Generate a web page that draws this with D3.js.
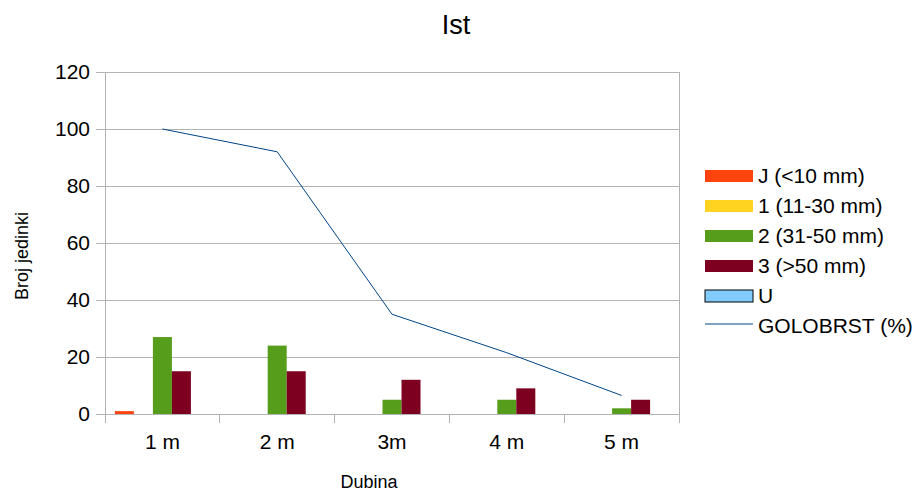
<!DOCTYPE html>
<html><head><meta charset="utf-8">
<script src="https://cdn.jsdelivr.net/npm/d3@7"></script>
<style>body{margin:0;background:#fff}svg{display:block}text{font-family:"Liberation Sans",Arial,sans-serif;fill:#000}</style>
</head><body><svg id="c" width="917" height="491"></svg>
<script>
const categories = ["1 m", "2 m", "3m", "4 m", "5 m"];
const seriesNames = ["J (<10 mm)", "1 (11-30 mm)", "2 (31-50 mm)", "3 (>50 mm)", "U"];
const seriesJ = [1, 0, 0, 0, 0];
const series1 = [0, 0, 0, 0, 0];
const series2 = [27, 24, 5, 5, 2];
const series3 = [15, 15, 12, 9, 5];
const seriesU = [0, 0, 0, 0, 0];
const golobrst = [100, 92, 35, 21.5, 6.5];
const lineName = "GOLOBRST (%)";
const yTicks = [0, 20, 40, 60, 80, 100, 120];
const colors = ["#ff420e", "#ffd320", "#579d1c", "#7e0021", "#83caff"];
const lineColor = "#004586";

const barSeries = [seriesJ, series1, series2, series3, seriesU];
const svg = d3.select("#c");
const m = {l: 105, r: 679, t: 72, b: 414};
const x = d3.scaleBand().domain(categories).range([m.l, m.r]);
const y = d3.scaleLinear().domain([0, 120]).range([m.b, m.t]);
const inner = d3.scaleBand().domain(d3.range(5)).range([0, x.bandwidth()]).paddingOuter(0.52).paddingInner(0);

// grid
svg.append("g").selectAll("line").data(yTicks).join("line")
  .attr("x1", m.l - 9).attr("x2", m.r).attr("y1", d => y(d)).attr("y2", d => y(d))
  .attr("stroke", "#b3b3b3").attr("stroke-width", 1).attr("shape-rendering", "crispEdges");
svg.append("line").attr("x1", m.l).attr("x2", m.l).attr("y1", m.t).attr("y2", m.b + 9)
  .attr("stroke", "#b3b3b3").attr("shape-rendering", "crispEdges");
svg.append("line").attr("x1", m.r).attr("x2", m.r).attr("y1", m.t).attr("y2", m.b + 9)
  .attr("stroke", "#b3b3b3").attr("shape-rendering", "crispEdges");
svg.append("g").selectAll("line").data(categories.slice(1)).join("line")
  .attr("x1", d => x(d)).attr("x2", d => x(d)).attr("y1", m.b).attr("y2", m.b + 9)
  .attr("stroke", "#b3b3b3").attr("shape-rendering", "crispEdges");

// y labels
svg.append("g").selectAll("text").data(yTicks).join("text")
  .attr("x", 90).attr("y", d => y(d)).attr("dy", "0.35em").attr("text-anchor", "end")
  .attr("font-size", 21).text(d => d);
// x labels
svg.append("g").selectAll("text").data(categories).join("text")
  .attr("x", d => x(d) + x.bandwidth() / 2).attr("y", 449).attr("text-anchor", "middle")
  .attr("font-size", 21).text(d => d);

// bars
barSeries.forEach((s, i) => {
  svg.append("g").selectAll("rect").data(s).join("rect")
    .attr("x", (d, j) => x(categories[j]) + inner(i))
    .attr("width", inner.bandwidth())
    .attr("y", d => y(d)).attr("height", d => y(0) - y(d))
    .attr("fill", colors[i]);
});

// line
const line = d3.line().x((d, j) => x(categories[j]) + x.bandwidth() / 2).y(d => y(d));
svg.append("path").datum(golobrst).attr("d", line).attr("fill", "none")
  .attr("stroke", lineColor).attr("stroke-width", 1);

// titles
svg.append("text").attr("x", 456).attr("y", 34).attr("text-anchor", "middle").attr("font-size", 27).text("Ist");
svg.append("text").attr("x", 369).attr("y", 488).attr("text-anchor", "middle").attr("font-size", 18).text("Dubina");
svg.append("text").attr("transform", "translate(28,256) rotate(-90)").attr("text-anchor", "middle").attr("font-size", 18).text("Broj jedinki");

// legend
const lg = svg.append("g");
seriesNames.forEach((n, i) => {
  const yy = 176 + i * 30;
  lg.append("rect").attr("x", 705).attr("y", yy - 6).attr("width", 48).attr("height", 12)
    .attr("fill", colors[i]).attr("stroke", i === 4 ? "#000" : "none").attr("stroke-width", 1);
  lg.append("text").attr("x", 758).attr("y", yy).attr("dy", "0.35em").attr("font-size", 21).text(n);
});
const ly = 176 + 5 * 30;
lg.append("line").attr("x1", 705).attr("x2", 753).attr("y1", ly - 2).attr("y2", ly - 2).attr("stroke", lineColor);
lg.append("text").attr("x", 758).attr("y", ly).attr("dy", "0.35em").attr("font-size", 21).text(lineName);
</script></body></html>
